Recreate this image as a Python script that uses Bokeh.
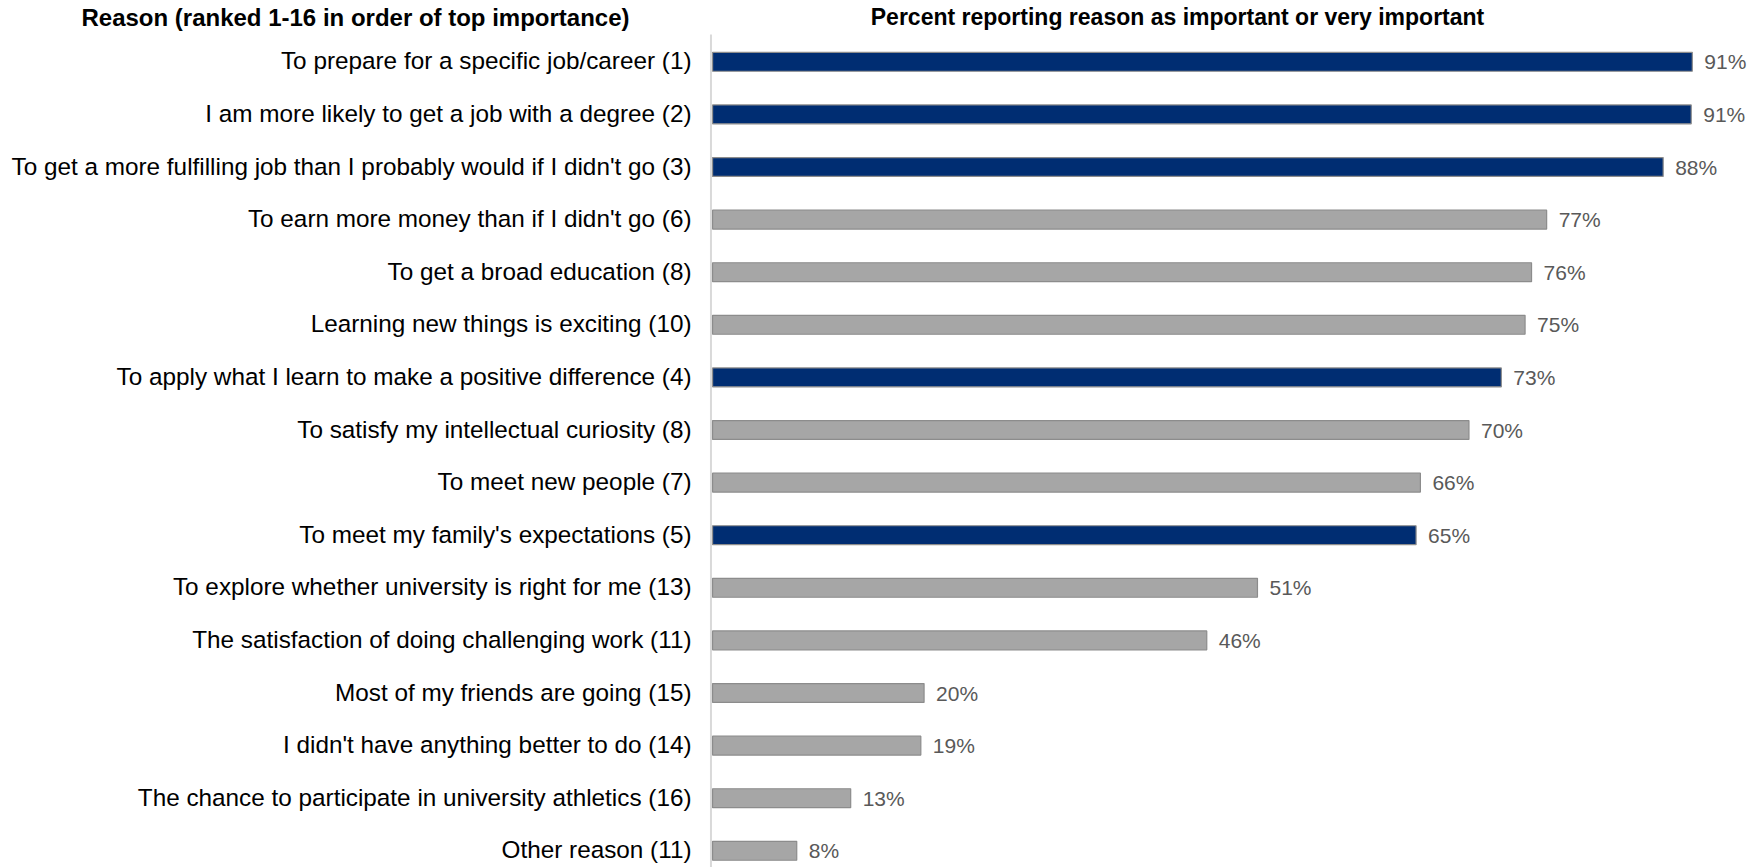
from bokeh.plotting import figure
from bokeh.models import Range1d, ColumnDataSource
from bokeh.core.properties import value
from bokeh.embed import file_html
from bokeh.resources import INLINE

categories = [
    "To prepare for a specific job/career (1)",
    "I am more likely to get a job with a degree (2)",
    "To get a more fulfilling job than I probably would if I didn't go (3)",
    "To earn more money than if I didn't go (6)",
    "To get a broad education (8)",
    "Learning new things is exciting (10)",
    "To apply what I learn to make a positive difference (4)",
    "To satisfy my intellectual curiosity (8)",
    "To meet new people (7)",
    "To meet my family's expectations (5)",
    "To explore whether university is right for me (13)",
    "The satisfaction of doing challenging work (11)",
    "Most of my friends are going (15)",
    "I didn't have anything better to do (14)",
    "The chance to participate in university athletics (16)",
    "Other reason (11)",
]
values = [90.9, 90.8, 88.2, 77.4, 76.0, 75.4, 73.2, 70.2, 65.7, 65.3, 50.6, 45.9, 19.7, 19.4, 12.9, 7.9]
highlight = [True, True, True, False, False, False, True, False, False, True,
             False, False, False, False, False, False]
value_labels = ["91%", "91%", "88%", "77%", "76%", "75%", "73%", "70%", "66%", "65%",
                "51%", "46%", "20%", "19%", "13%", "8%"]
left_title = "Reason (ranked 1-16 in order of top importance)"
right_title = "Percent reporting reason as important or very important"

NAVY = "#002D72"
GRAY = "#A6A6A6"

n = len(categories)
ypos = [n - 1 - i for i in range(n)]
colors = [NAVY if h else GRAY for h in highlight]

src = ColumnDataSource(dict(y=ypos, v=values, c=colors, lab=value_labels, cat=categories))

W, H = 1748, 867
axis_px = 711
px_per_pct = 10.79
row_px = 52.6
x_start = -axis_px / px_per_pct
x_end = (W - axis_px) / px_per_pct
y_end = (n - 1) + 61.3 / row_px
y_start = y_end - H / row_px

p = figure(width=W, height=H, output_backend="svg", toolbar_location=None,
           x_range=Range1d(x_start, x_end), y_range=Range1d(y_start, y_end),
           min_border=0)
p.outline_line_color = None
p.xgrid.visible = False
p.ygrid.visible = False
p.xaxis.visible = False
p.yaxis.visible = False
p.background_fill_color = "white"

# vertical axis line
p.segment(x0=[-0.05], y0=[y_start], x1=[-0.05], y1=[y_end - 34 / row_px],
          line_color="#D9D9D9", line_width=2)

p.hbar(y="y", left=0.1, right="v", height=0.36, fill_color="c",
       line_color="#8C8C8C", line_width=1.2, source=src)

# value labels
p.text(x="v", y="y", text="lab", source=src, x_offset=12,
       text_baseline="middle", text_align="left",
       text_font=value("Liberation Sans"), text_font_size="21px",
       text_color="#595959")

# category labels
p.text(x=-20 / px_per_pct, y="y", text="cat", source=src, y_offset=-1,
       text_baseline="middle", text_align="right",
       text_font=value("Liberation Sans"), text_font_size="24.3px",
       text_color="#000000")

# titles
title_y = y_end - 16.5 / row_px
p.text(x=[(355 - axis_px) / px_per_pct], y=[title_y], text=[left_title],
       text_baseline="middle", text_align="center",
       text_font=value("Liberation Sans"), text_font_style="bold",
       text_font_size="24px", text_color="#000000")
p.text(x=[(1177 - axis_px) / px_per_pct], y=[title_y], text=[right_title],
       text_baseline="middle", text_align="center",
       text_font=value("Liberation Sans"), text_font_style="bold",
       text_font_size="23px", text_color="#000000")

open("out.html", "w").write(file_html(p, INLINE))
